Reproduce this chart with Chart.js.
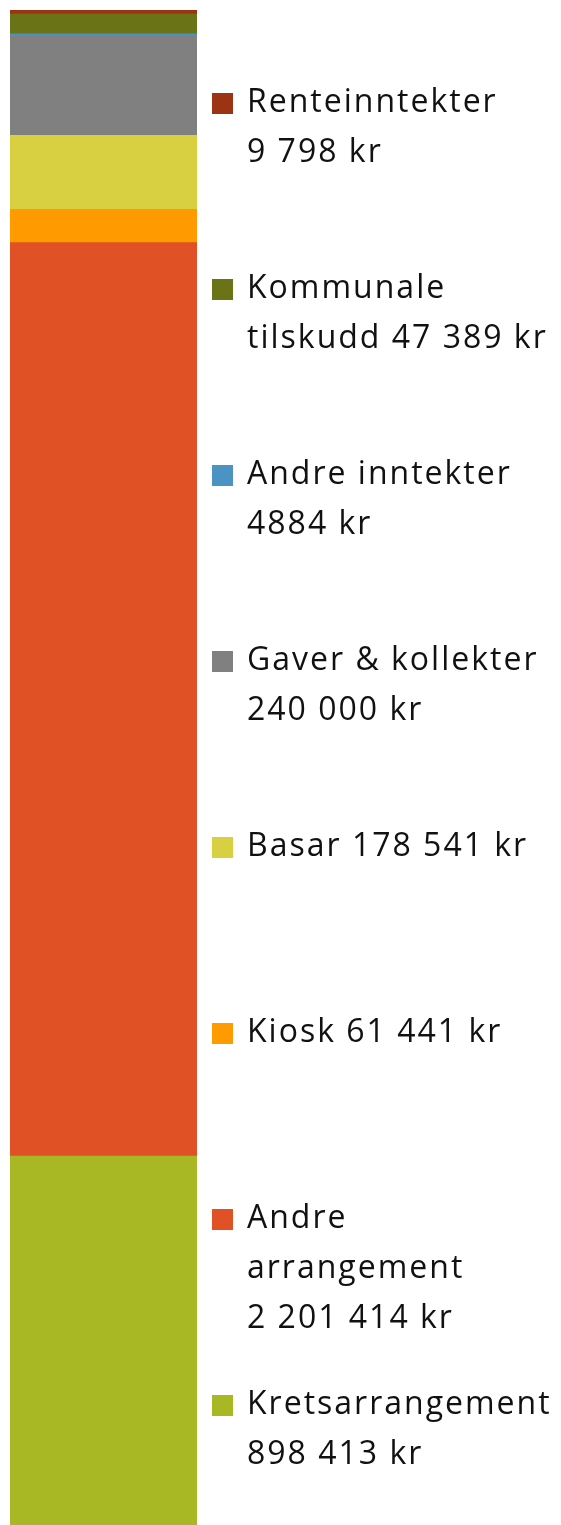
<!DOCTYPE html>
<html>
<head>
<meta charset="utf-8">
<script src="https://cdn.jsdelivr.net/npm/chart.js@4.4.0/dist/chart.umd.min.js"></script>
<style>
html, body { margin: 0; padding: 0; background: #fff; overflow: hidden; }
#wrap { width: 561px; height: 1530px; }
</style>
</head>
<body>
<div id="wrap"><canvas id="inntekter" width="561" height="1530"></canvas></div>
<script>
// stacked from the bottom of the bar to the top
var categories = ["Kretsarrangement", "Andre arrangement", "Kiosk", "Basar",
	"Gaver & kollekter", "Andre inntekter", "Kommunale tilskudd", "Renteinntekter"];
// bar heights (kiosk segment is taller than its label says)
var values = [898413, 2201414, 80000, 178541, 240000, 4884, 47389, 9798];
var colors = ["#a8b825", "#e05226", "#ff9a00", "#d8d040",
	"#808080", "#4a93c2", "#6b7317", "#9c3414"];
// legend text, line by line, as it is wrapped in the picture
var legendLines = [
	["Kretsarrangement", "898 413 kr"],
	["Andre", "arrangement", "2 201 414 kr"],
	["Kiosk 61 441 kr"],
	["Basar 178 541 kr"],
	["Gaver & kollekter", "240 000 kr"],
	["Andre inntekter", "4884 kr"],
	["Kommunale", "tilskudd 47 389 kr"],
	["Renteinntekter", "9 798 kr"]
];

var total = 0;
for (var i = 0; i < values.length; i++) total += values[i];

var sideLegend = {
	id: "sideLegend",
	afterDraw: function(chart) {
		var ctx = chart.ctx;
		ctx.save();
		ctx.font = "32px 'Open Sans'";
		ctx.letterSpacing = "2px";
		ctx.textBaseline = "middle";
		var n = chart.data.datasets.length;
		for (var k = 0; k < n; k++) {
			var idx = n - 1 - k;
			var ds = chart.data.datasets[idx];
			var y = 103 + k * 186;
			ctx.fillStyle = ds.backgroundColor;
			ctx.fillRect(212, y - 10, 21, 21);
			ctx.fillStyle = "#111";
			var lines = legendLines[idx];
			for (var j = 0; j < lines.length; j++) {
				ctx.fillText(lines[j], 247, y + j * 50);
			}
		}
		ctx.restore();
	}
};

var datasets = [];
for (var i = 0; i < categories.length; i++) {
	datasets.push({
		label: categories[i],
		data: [values[i]],
		backgroundColor: colors[i],
		borderWidth: 0,
		barPercentage: 1,
		categoryPercentage: 1
	});
}

var popCanvas = document.getElementById("inntekter");
var barChart = new Chart(popCanvas, {
	type: "bar",
	data: { labels: [""], datasets: datasets },
	options: {
		responsive: false,
		animation: false,
		layout: { padding: { left: 10, right: 364, top: 10, bottom: 1 } },
		plugins: { legend: { display: false }, tooltip: { enabled: false } },
		scales: {
			x: { stacked: true, display: false },
			y: { stacked: true, display: false, min: 0, max: total }
		}
	},
	plugins: [sideLegend]
});
</script>
</body>
</html>
